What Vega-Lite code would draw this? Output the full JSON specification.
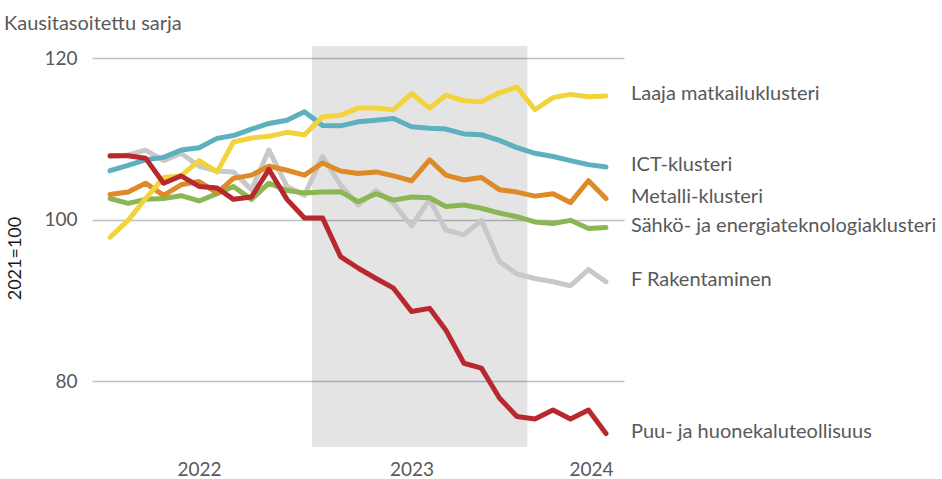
{
  "$schema": "https://vega.github.io/schema/vega-lite/v6.json",
  "width": 532,
  "height": 401,
  "autosize": {"type": "none"},
  "padding": {"left": 92, "top": 46, "right": 318, "bottom": 32},
  "background": "white",
  "config": {"view": {"stroke": null}, "font": "Lato"},
  "title": {"text": "Kausitasoitettu sarja", "anchor": "start", "frame": "bounds", "font": "Lato", "fontSize": 20, "fontWeight": "normal", "color": "#595959", "offset": 12, "dx": -2},
  "datasets": {
    "period": [{"start": "2022-07-14", "end": "2023-07-19"}],
    "series": [
      {"date":"2021-08-01","series":"F Rakentaminen","value":107.8},
      {"date":"2021-09-01","series":"F Rakentaminen","value":108.0},
      {"date":"2021-10-01","series":"F Rakentaminen","value":108.6},
      {"date":"2021-11-01","series":"F Rakentaminen","value":107.3},
      {"date":"2021-12-01","series":"F Rakentaminen","value":108.2},
      {"date":"2022-01-01","series":"F Rakentaminen","value":106.6},
      {"date":"2022-02-01","series":"F Rakentaminen","value":106.0},
      {"date":"2022-03-01","series":"F Rakentaminen","value":105.9},
      {"date":"2022-04-01","series":"F Rakentaminen","value":103.7},
      {"date":"2022-05-01","series":"F Rakentaminen","value":108.6},
      {"date":"2022-06-01","series":"F Rakentaminen","value":104.1},
      {"date":"2022-07-01","series":"F Rakentaminen","value":103.0},
      {"date":"2022-08-01","series":"F Rakentaminen","value":107.8},
      {"date":"2022-09-01","series":"F Rakentaminen","value":104.3},
      {"date":"2022-10-01","series":"F Rakentaminen","value":101.8},
      {"date":"2022-11-01","series":"F Rakentaminen","value":103.6},
      {"date":"2022-12-01","series":"F Rakentaminen","value":102.0},
      {"date":"2023-01-01","series":"F Rakentaminen","value":99.2},
      {"date":"2023-02-01","series":"F Rakentaminen","value":102.5},
      {"date":"2023-03-01","series":"F Rakentaminen","value":98.7},
      {"date":"2023-04-01","series":"F Rakentaminen","value":98.1},
      {"date":"2023-05-01","series":"F Rakentaminen","value":99.9},
      {"date":"2023-06-01","series":"F Rakentaminen","value":94.8},
      {"date":"2023-07-01","series":"F Rakentaminen","value":93.25},
      {"date":"2023-08-01","series":"F Rakentaminen","value":92.7},
      {"date":"2023-09-01","series":"F Rakentaminen","value":92.3},
      {"date":"2023-10-01","series":"F Rakentaminen","value":91.8},
      {"date":"2023-11-01","series":"F Rakentaminen","value":93.8},
      {"date":"2023-12-01","series":"F Rakentaminen","value":92.3},

      {"date":"2021-08-01","series":"Sähkö- ja energiateknologiaklusteri","value":102.6},
      {"date":"2021-09-01","series":"Sähkö- ja energiateknologiaklusteri","value":102.0},
      {"date":"2021-10-01","series":"Sähkö- ja energiateknologiaklusteri","value":102.5},
      {"date":"2021-11-01","series":"Sähkö- ja energiateknologiaklusteri","value":102.6},
      {"date":"2021-12-01","series":"Sähkö- ja energiateknologiaklusteri","value":102.95},
      {"date":"2022-01-01","series":"Sähkö- ja energiateknologiaklusteri","value":102.3},
      {"date":"2022-02-01","series":"Sähkö- ja energiateknologiaklusteri","value":103.2},
      {"date":"2022-03-01","series":"Sähkö- ja energiateknologiaklusteri","value":104.1},
      {"date":"2022-04-01","series":"Sähkö- ja energiateknologiaklusteri","value":102.5},
      {"date":"2022-05-01","series":"Sähkö- ja energiateknologiaklusteri","value":104.5},
      {"date":"2022-06-01","series":"Sähkö- ja energiateknologiaklusteri","value":103.6},
      {"date":"2022-07-01","series":"Sähkö- ja energiateknologiaklusteri","value":103.3},
      {"date":"2022-08-01","series":"Sähkö- ja energiateknologiaklusteri","value":103.4},
      {"date":"2022-09-01","series":"Sähkö- ja energiateknologiaklusteri","value":103.45},
      {"date":"2022-10-01","series":"Sähkö- ja energiateknologiaklusteri","value":102.2},
      {"date":"2022-11-01","series":"Sähkö- ja energiateknologiaklusteri","value":103.2},
      {"date":"2022-12-01","series":"Sähkö- ja energiateknologiaklusteri","value":102.4},
      {"date":"2023-01-01","series":"Sähkö- ja energiateknologiaklusteri","value":102.8},
      {"date":"2023-02-01","series":"Sähkö- ja energiateknologiaklusteri","value":102.7},
      {"date":"2023-03-01","series":"Sähkö- ja energiateknologiaklusteri","value":101.6},
      {"date":"2023-04-01","series":"Sähkö- ja energiateknologiaklusteri","value":101.8},
      {"date":"2023-05-01","series":"Sähkö- ja energiateknologiaklusteri","value":101.4},
      {"date":"2023-06-01","series":"Sähkö- ja energiateknologiaklusteri","value":100.8},
      {"date":"2023-07-01","series":"Sähkö- ja energiateknologiaklusteri","value":100.35},
      {"date":"2023-08-01","series":"Sähkö- ja energiateknologiaklusteri","value":99.7},
      {"date":"2023-09-01","series":"Sähkö- ja energiateknologiaklusteri","value":99.5},
      {"date":"2023-10-01","series":"Sähkö- ja energiateknologiaklusteri","value":99.9},
      {"date":"2023-11-01","series":"Sähkö- ja energiateknologiaklusteri","value":98.9},
      {"date":"2023-12-01","series":"Sähkö- ja energiateknologiaklusteri","value":99.0},

      {"date":"2021-08-01","series":"Metalli-klusteri","value":103.1},
      {"date":"2021-09-01","series":"Metalli-klusteri","value":103.4},
      {"date":"2021-10-01","series":"Metalli-klusteri","value":104.5},
      {"date":"2021-11-01","series":"Metalli-klusteri","value":103.0},
      {"date":"2021-12-01","series":"Metalli-klusteri","value":104.3},
      {"date":"2022-01-01","series":"Metalli-klusteri","value":104.7},
      {"date":"2022-02-01","series":"Metalli-klusteri","value":103.3},
      {"date":"2022-03-01","series":"Metalli-klusteri","value":105.1},
      {"date":"2022-04-01","series":"Metalli-klusteri","value":105.5},
      {"date":"2022-05-01","series":"Metalli-klusteri","value":106.6},
      {"date":"2022-06-01","series":"Metalli-klusteri","value":106.1},
      {"date":"2022-07-01","series":"Metalli-klusteri","value":105.5},
      {"date":"2022-08-01","series":"Metalli-klusteri","value":107.0},
      {"date":"2022-09-01","series":"Metalli-klusteri","value":106.0},
      {"date":"2022-10-01","series":"Metalli-klusteri","value":105.7},
      {"date":"2022-11-01","series":"Metalli-klusteri","value":105.9},
      {"date":"2022-12-01","series":"Metalli-klusteri","value":105.4},
      {"date":"2023-01-01","series":"Metalli-klusteri","value":104.8},
      {"date":"2023-02-01","series":"Metalli-klusteri","value":107.4},
      {"date":"2023-03-01","series":"Metalli-klusteri","value":105.5},
      {"date":"2023-04-01","series":"Metalli-klusteri","value":104.9},
      {"date":"2023-05-01","series":"Metalli-klusteri","value":105.2},
      {"date":"2023-06-01","series":"Metalli-klusteri","value":103.7},
      {"date":"2023-07-01","series":"Metalli-klusteri","value":103.4},
      {"date":"2023-08-01","series":"Metalli-klusteri","value":102.9},
      {"date":"2023-09-01","series":"Metalli-klusteri","value":103.2},
      {"date":"2023-10-01","series":"Metalli-klusteri","value":102.1},
      {"date":"2023-11-01","series":"Metalli-klusteri","value":104.8},
      {"date":"2023-12-01","series":"Metalli-klusteri","value":102.6},

      {"date":"2021-08-01","series":"ICT-klusteri","value":106.05},
      {"date":"2021-09-01","series":"ICT-klusteri","value":106.7},
      {"date":"2021-10-01","series":"ICT-klusteri","value":107.4},
      {"date":"2021-11-01","series":"ICT-klusteri","value":107.7},
      {"date":"2021-12-01","series":"ICT-klusteri","value":108.6},
      {"date":"2022-01-01","series":"ICT-klusteri","value":108.9},
      {"date":"2022-02-01","series":"ICT-klusteri","value":110.05},
      {"date":"2022-03-01","series":"ICT-klusteri","value":110.4},
      {"date":"2022-04-01","series":"ICT-klusteri","value":111.2},
      {"date":"2022-05-01","series":"ICT-klusteri","value":111.9},
      {"date":"2022-06-01","series":"ICT-klusteri","value":112.3},
      {"date":"2022-07-01","series":"ICT-klusteri","value":113.35},
      {"date":"2022-08-01","series":"ICT-klusteri","value":111.65},
      {"date":"2022-09-01","series":"ICT-klusteri","value":111.6},
      {"date":"2022-10-01","series":"ICT-klusteri","value":112.1},
      {"date":"2022-11-01","series":"ICT-klusteri","value":112.3},
      {"date":"2022-12-01","series":"ICT-klusteri","value":112.5},
      {"date":"2023-01-01","series":"ICT-klusteri","value":111.5},
      {"date":"2023-02-01","series":"ICT-klusteri","value":111.3},
      {"date":"2023-03-01","series":"ICT-klusteri","value":111.2},
      {"date":"2023-04-01","series":"ICT-klusteri","value":110.6},
      {"date":"2023-05-01","series":"ICT-klusteri","value":110.5},
      {"date":"2023-06-01","series":"ICT-klusteri","value":109.8},
      {"date":"2023-07-01","series":"ICT-klusteri","value":108.9},
      {"date":"2023-08-01","series":"ICT-klusteri","value":108.2},
      {"date":"2023-09-01","series":"ICT-klusteri","value":107.8},
      {"date":"2023-10-01","series":"ICT-klusteri","value":107.3},
      {"date":"2023-11-01","series":"ICT-klusteri","value":106.8},
      {"date":"2023-12-01","series":"ICT-klusteri","value":106.5},

      {"date":"2021-08-01","series":"Laaja matkailuklusteri","value":97.8},
      {"date":"2021-09-01","series":"Laaja matkailuklusteri","value":99.9},
      {"date":"2021-10-01","series":"Laaja matkailuklusteri","value":102.6},
      {"date":"2021-11-01","series":"Laaja matkailuklusteri","value":105.2},
      {"date":"2021-12-01","series":"Laaja matkailuklusteri","value":105.4},
      {"date":"2022-01-01","series":"Laaja matkailuklusteri","value":107.3},
      {"date":"2022-02-01","series":"Laaja matkailuklusteri","value":105.9},
      {"date":"2022-03-01","series":"Laaja matkailuklusteri","value":109.6},
      {"date":"2022-04-01","series":"Laaja matkailuklusteri","value":110.1},
      {"date":"2022-05-01","series":"Laaja matkailuklusteri","value":110.3},
      {"date":"2022-06-01","series":"Laaja matkailuklusteri","value":110.8},
      {"date":"2022-07-01","series":"Laaja matkailuklusteri","value":110.5},
      {"date":"2022-08-01","series":"Laaja matkailuklusteri","value":112.7},
      {"date":"2022-09-01","series":"Laaja matkailuklusteri","value":112.9},
      {"date":"2022-10-01","series":"Laaja matkailuklusteri","value":113.8},
      {"date":"2022-11-01","series":"Laaja matkailuklusteri","value":113.8},
      {"date":"2022-12-01","series":"Laaja matkailuklusteri","value":113.6},
      {"date":"2023-01-01","series":"Laaja matkailuklusteri","value":115.6},
      {"date":"2023-02-01","series":"Laaja matkailuklusteri","value":113.8},
      {"date":"2023-03-01","series":"Laaja matkailuklusteri","value":115.4},
      {"date":"2023-04-01","series":"Laaja matkailuklusteri","value":114.7},
      {"date":"2023-05-01","series":"Laaja matkailuklusteri","value":114.6},
      {"date":"2023-06-01","series":"Laaja matkailuklusteri","value":115.7},
      {"date":"2023-07-01","series":"Laaja matkailuklusteri","value":116.4},
      {"date":"2023-08-01","series":"Laaja matkailuklusteri","value":113.6},
      {"date":"2023-09-01","series":"Laaja matkailuklusteri","value":115.1},
      {"date":"2023-10-01","series":"Laaja matkailuklusteri","value":115.5},
      {"date":"2023-11-01","series":"Laaja matkailuklusteri","value":115.2},
      {"date":"2023-12-01","series":"Laaja matkailuklusteri","value":115.3},

      {"date":"2021-08-01","series":"Puu- ja huonekaluteollisuus","value":107.9},
      {"date":"2021-09-01","series":"Puu- ja huonekaluteollisuus","value":107.9},
      {"date":"2021-10-01","series":"Puu- ja huonekaluteollisuus","value":107.6},
      {"date":"2021-11-01","series":"Puu- ja huonekaluteollisuus","value":104.5},
      {"date":"2021-12-01","series":"Puu- ja huonekaluteollisuus","value":105.4},
      {"date":"2022-01-01","series":"Puu- ja huonekaluteollisuus","value":104.1},
      {"date":"2022-02-01","series":"Puu- ja huonekaluteollisuus","value":103.9},
      {"date":"2022-03-01","series":"Puu- ja huonekaluteollisuus","value":102.5},
      {"date":"2022-04-01","series":"Puu- ja huonekaluteollisuus","value":102.8},
      {"date":"2022-05-01","series":"Puu- ja huonekaluteollisuus","value":106.2},
      {"date":"2022-06-01","series":"Puu- ja huonekaluteollisuus","value":102.5},
      {"date":"2022-07-01","series":"Puu- ja huonekaluteollisuus","value":100.2},
      {"date":"2022-08-01","series":"Puu- ja huonekaluteollisuus","value":100.2},
      {"date":"2022-09-01","series":"Puu- ja huonekaluteollisuus","value":95.4},
      {"date":"2022-10-01","series":"Puu- ja huonekaluteollisuus","value":94.0},
      {"date":"2022-11-01","series":"Puu- ja huonekaluteollisuus","value":92.7},
      {"date":"2022-12-01","series":"Puu- ja huonekaluteollisuus","value":91.5},
      {"date":"2023-01-01","series":"Puu- ja huonekaluteollisuus","value":88.6},
      {"date":"2023-02-01","series":"Puu- ja huonekaluteollisuus","value":89.0},
      {"date":"2023-03-01","series":"Puu- ja huonekaluteollisuus","value":86.3},
      {"date":"2023-04-01","series":"Puu- ja huonekaluteollisuus","value":82.2},
      {"date":"2023-05-01","series":"Puu- ja huonekaluteollisuus","value":81.6},
      {"date":"2023-06-01","series":"Puu- ja huonekaluteollisuus","value":77.9},
      {"date":"2023-07-01","series":"Puu- ja huonekaluteollisuus","value":75.6},
      {"date":"2023-08-01","series":"Puu- ja huonekaluteollisuus","value":75.3},
      {"date":"2023-09-01","series":"Puu- ja huonekaluteollisuus","value":76.4},
      {"date":"2023-10-01","series":"Puu- ja huonekaluteollisuus","value":75.3},
      {"date":"2023-11-01","series":"Puu- ja huonekaluteollisuus","value":76.4},
      {"date":"2023-12-01","series":"Puu- ja huonekaluteollisuus","value":73.5}
    ]
  },
  "layer": [
    {
      "data": {"name": "period"},
      "mark": {"type": "rect", "fill": "#000000", "opacity": 0.105},
      "encoding": {
        "x": {"field": "start", "type": "temporal"},
        "x2": {"field": "end"}
      }
    },
    {
      "data": {"name": "series"},
      "mark": {"type": "line", "strokeWidth": 5, "strokeCap": "round", "strokeJoin": "round"},
      "encoding": {
        "x": {
          "field": "date", "type": "temporal",
          "scale": {"type": "utc", "domain": ["2021-07-01", "2024-01-01"], "nice": false},
          "axis": {
            "title": null, "values": ["2022-01-01", "2023-01-01", "2024-01-01"],
            "labelExpr": "utcFormat(datum.value, '%Y')",
            "ticks": false, "domain": false, "grid": false,
            "labelFont": "Lato", "labelFontSize": 19, "labelColor": "#595959",
            "labelPadding": 13, "labelOverlap": false, "labelFlush": false, "labelBound": false,
            "labelOffset": {"condition": {"test": "utcyear(datum.value) === 2024", "value": -33}, "value": 0}
          }
        },
        "y": {
          "field": "value", "type": "quantitative",
          "scale": {"domain": [71.83, 121.49], "nice": false, "zero": false},
          "axis": {
            "title": "2021=100", "values": [80, 100, 120],
            "ticks": false, "domain": false, "grid": true,
            "gridColor": "#bfbfbf", "gridWidth": 1.5,
            "labelFont": "Lato", "labelFontSize": 19, "labelColor": "#595959", "labelPadding": 15,
            "titleFont": "Lato", "titleFontSize": 18, "titleFontWeight": "normal", "titleColor": "#1a1a1a",
            "titleX": -68, "titleY": 212
          }
        },
        "color": {
          "field": "series", "type": "nominal", "legend": null,
          "scale": {
            "domain": ["F Rakentaminen", "Sähkö- ja energiateknologiaklusteri", "Metalli-klusteri", "ICT-klusteri", "Laaja matkailuklusteri", "Puu- ja huonekaluteollisuus"],
            "range": ["#c8c8c8", "#8cb653", "#dd8a28", "#5db1be", "#f1d33b", "#b7292e"]
          }
        }
      }
    },
    {
      "data": {"name": "series"},
      "transform": [{"filter": "utcyear(datum.date) === 2023 && utcmonth(datum.date) === 11"}],
      "mark": {"type": "text", "align": "left", "baseline": "middle", "dx": 25, "dy": -2, "font": "Lato", "fontSize": 20, "color": "#595959"},
      "encoding": {
        "x": {"field": "date", "type": "temporal"},
        "y": {"field": "value", "type": "quantitative"},
        "text": {"field": "series"}
      }
    }
  ]
}
